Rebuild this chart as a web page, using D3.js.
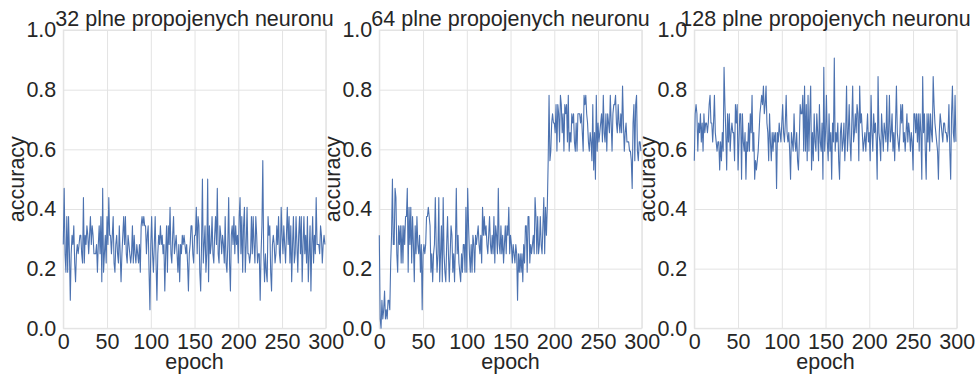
<!DOCTYPE html>
<html><head><meta charset="utf-8">
<script src="https://cdn.jsdelivr.net/npm/d3@7"></script>
<style>
body{margin:0;background:#fff}
text{font-family:"Liberation Sans",Arial,sans-serif;fill:#262626}
</style>
</head><body>
<svg id="c" width="977" height="374"></svg>
<script>
const titles = ["32 plne propojenych neuronu","64 plne propojenych neuronu","128 plne propojenych neuronu"];
const xLabel = "epoch";
const yLabel = "accuracy";
const xTicks = [0,50,100,150,200,250,300];
const yTicks = [0,0.2,0.4,0.6,0.8,1.0];

const acc32 = [
.281,.469,.25,.188,.375,.188,.375,.25,.094,.25,
.312,.281,.344,.219,.156,.25,.281,.25,.281,.312,
.312,.25,.219,.438,.219,.312,.281,.344,.312,.25,
.312,.375,.281,.344,.312,.25,.25,.25,.281,.188,
.281,.344,.25,.375,.156,.469,.188,.25,.312,.219,
.375,.281,.438,.312,.312,.25,.312,.375,.219,.188,
.281,.312,.25,.219,.344,.25,.156,.25,.312,.375,
.281,.375,.25,.219,.312,.281,.25,.219,.25,.344,
.219,.312,.25,.219,.281,.25,.219,.281,.188,.344,
.375,.344,.375,.344,.344,.25,.312,.344,.188,.062,
.281,.375,.25,.188,.281,.375,.219,.094,.25,.312,
.281,.344,.281,.312,.25,.281,.125,.25,.344,.188,
.344,.281,.406,.25,.219,.312,.375,.25,.281,.312,
.25,.188,.281,.156,.281,.25,.312,.281,.312,.281,
.25,.281,.219,.125,.25,.281,.344,.344,.25,.219,
.312,.312,.406,.25,.375,.344,.188,.125,.281,.5,
.219,.281,.344,.188,.25,.5,.156,.344,.25,.281,
.375,.25,.219,.312,.375,.281,.469,.25,.219,.344,
.312,.25,.312,.281,.219,.375,.219,.188,.281,.438,
.219,.125,.312,.344,.281,.375,.25,.344,.281,.312,
.219,.375,.438,.25,.375,.188,.344,.406,.188,.281,
.406,.25,.25,.219,.25,.375,.25,.375,.281,.219,
.375,.312,.219,.25,.25,.094,.25,.344,.562,.25,
.156,.25,.188,.156,.375,.312,.344,.188,.125,.281,
.312,.281,.219,.25,.344,.281,.375,.25,.219,.406,
.312,.25,.344,.281,.219,.312,.406,.281,.375,.219,
.344,.156,.281,.375,.219,.25,.375,.281,.188,.312,
.375,.25,.375,.156,.281,.375,.25,.312,.219,.375,
.156,.25,.344,.125,.281,.375,.219,.312,.25,.438,
.281,.281,.281,.25,.344,.312,.219,.281,.312,.281
];

const acc64 = [
.312,.031,0,.094,.031,.062,.125,.031,.062,.031,
.094,.094,.062,.219,.312,.5,.281,.281,.469,.438,
.25,.188,.344,.281,.344,.219,.344,.219,.344,.281,
.375,.375,.469,.188,.406,.281,.406,.219,.375,.281,
.156,.344,.25,.375,.281,.25,.312,.188,.281,.062,
.25,.281,.25,.281,.375,.375,.406,.375,.344,.188,
.25,.156,.25,.281,.438,.281,.188,.25,.438,.156,
.25,.344,.156,.438,.25,.188,.156,.281,.375,.25,
.156,.25,.344,.312,.188,.25,.156,.281,.469,.25,
.312,.219,.188,.156,.25,.188,.281,.281,.188,.406,
.188,.469,.344,.25,.188,.281,.188,.312,.281,.188,
.312,.281,.312,.344,.281,.25,.312,.219,.406,.312,
.375,.312,.344,.281,.25,.312,.375,.281,.25,.312,
.25,.375,.219,.344,.312,.25,.469,.281,.25,.344,
.25,.312,.219,.281,.344,.25,.344,.312,.406,.25,
.312,.281,.219,.281,.25,.219,.281,.25,.094,.25,
.188,.25,.188,.25,.156,.281,.219,.344,.344,.188,
.375,.375,.219,.281,.25,.281,.312,.25,.438,.375,
.25,.375,.25,.281,.375,.281,.25,.344,.438,.25,
.406,.312,.406,.562,.781,.562,.594,.688,.719,.688,
.688,.656,.75,.594,.75,.719,.625,.781,.75,.656,
.719,.594,.75,.719,.75,.625,.781,.594,.656,.625,
.719,.688,.719,.625,.594,.688,.594,.719,.719,.719,
.688,.719,.656,.594,.781,.75,.781,.719,.688,.625,
.594,.656,.625,.562,.75,.531,.656,.5,.781,.594,
.688,.625,.656,.688,.719,.625,.781,.656,.625,.719,
.594,.719,.688,.656,.781,.688,.594,.719,.75,.75,
.781,.688,.656,.75,.688,.656,.719,.656,.812,.688,
.594,.656,.688,.625,.625,.625,.594,.594,.562,.469,
.688,.75,.562,.75,.781,.594,.562,.625,.625,.594
];

const acc128 = [
.562,.719,.75,.719,.594,.688,.656,.719,.625,.688,
.594,.719,.656,.688,.688,.656,.688,.75,.781,.688,
.688,.625,.688,.781,.656,.625,.594,.625,.625,.531,
.625,.562,.656,.594,.875,.75,.656,.531,.719,.625,
.719,.594,.656,.688,.656,.656,.562,.75,.688,.75,
.531,.625,.719,.719,.5,.719,.625,.594,.656,.5,
.625,.594,.688,.594,.719,.656,.781,.594,.656,.5,
.562,.531,.562,.594,.656,.719,.75,.781,.75,.812,
.719,.75,.812,.688,.656,.562,.719,.625,.562,.656,
.594,.656,.625,.656,.469,.656,.625,.688,.656,.625,
.688,.75,.656,.625,.688,.781,.656,.625,.656,.594,
.5,.656,.625,.594,.719,.625,.594,.656,.562,.531,
.625,.75,.719,.719,.781,.594,.812,.594,.75,.562,
.781,.594,.719,.812,.531,.656,.562,.719,.625,.594,
.719,.656,.562,.75,.625,.594,.688,.5,.875,.594,
.656,.781,.625,.562,.719,.594,.656,.5,.688,.625,
.906,.594,.656,.625,.688,.562,.5,.656,.688,.594,
.625,.688,.562,.656,.812,.594,.656,.75,.625,.562,
.688,.812,.625,.656,.719,.656,.75,.719,.562,.812,
.688,.719,.656,.594,.625,.656,.594,.656,.719,.625,
.656,.562,.781,.656,.594,.719,.656,.688,.625,.5,
.844,.656,.625,.562,.719,.656,.594,.688,.656,.625,
.781,.594,.656,.781,.625,.656,.719,.594,.656,.562,
.688,.812,.656,.625,.594,.656,.75,.688,.75,.625,
.656,.594,.656,.719,.625,.688,.656,.594,.656,.625,
.531,.719,.719,.656,.719,.625,.719,.594,.719,.656,
.5,.844,.656,.719,.594,.5,.719,.625,.719,.594,
.719,.656,.625,.844,.75,.688,.656,.625,.594,.5,
.656,.719,.688,.656,.625,.688,.688,.656,.656,.625,
.656,.75,.594,.5,.719,.812,.656,.625,.781,.625
];

const series = [acc32, acc64, acc128];

// layout
const svg = d3.select("#c");
const panelLeft = [63.3, 379.3, 694.3];
const pw = 262.5, plotTop = 30, plotBottom = 328.3;
const fs = 21.5;
const gridColor = "#e3e3e3";

series.forEach((vals, p) => {
  const L = panelLeft[p];
  const x = d3.scaleLinear().domain([0,300]).range([L, L+pw]);
  const y = d3.scaleLinear().domain([0,1]).range([plotBottom, plotTop]);
  const g = svg.append("g");

  const ax = g.append("g").attr("transform",`translate(0,${plotBottom})`)
    .call(d3.axisBottom(x).tickValues(xTicks).tickFormat(d3.format("d"))
      .tickSizeInner(-(plotBottom-plotTop)).tickSizeOuter(0).tickPadding(5));
  const ay = g.append("g").attr("transform",`translate(${L},0)`)
    .call(d3.axisLeft(y).tickValues(yTicks).tickFormat(d3.format(".1f"))
      .tickSizeInner(-pw).tickSizeOuter(0).tickPadding(7));
  [ax, ay].forEach(a => {
    a.select(".domain").remove();
    a.selectAll(".tick line").attr("stroke", gridColor).attr("stroke-width", 1);
    a.selectAll(".tick text").attr("font-size", fs).attr("fill", "#262626")
      .attr("font-family", '"Liberation Sans",Arial,sans-serif');
  });
  g.append("rect").attr("x", L).attr("y", plotTop).attr("width", pw).attr("height", plotBottom-plotTop)
    .attr("fill", "none").attr("stroke", gridColor).attr("stroke-width", 1);

  const line = d3.line().x((d,i) => x(i)).y(d => y(d));
  g.append("path").datum(vals).attr("d", line)
    .attr("fill", "none").attr("stroke", "#4c72b0").attr("stroke-width", 1.1)
    .attr("stroke-linejoin", "round");

  g.append("text").attr("x", L + pw/2).attr("y", 26).attr("text-anchor", "middle")
    .attr("font-size", fs).text(titles[p]);
  g.append("text").attr("x", L + pw/2).attr("y", 369).attr("text-anchor", "middle")
    .attr("font-size", fs).text(xLabel);
  g.append("text").attr("transform", `translate(${L-39},${(plotTop+plotBottom)/2}) rotate(-90)`)
    .attr("text-anchor", "middle").attr("font-size", fs).text(yLabel);
});
</script>
</body></html>
